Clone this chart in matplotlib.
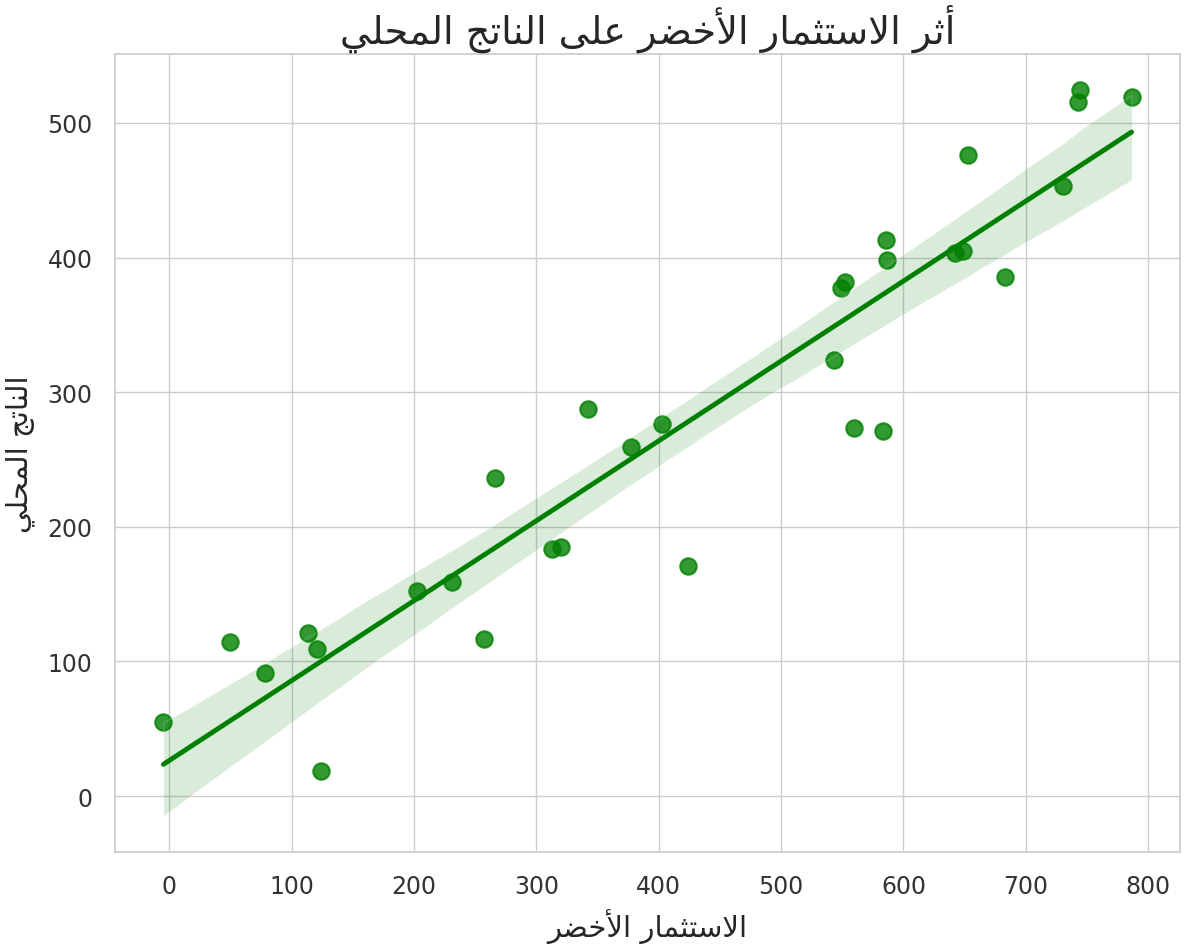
import numpy as np
import pandas as pd
import seaborn as sns
from matplotlib import pyplot as plt

# green investment vs. local output
green_investment = [-4.9, 49.4, 78.5, 113.2, 120.6, 124.1, 202.7, 230.7, 257.0, 265.8,
                    312.7, 320.0, 342.0, 377.3, 402.3, 424.0, 543.5, 548.9, 552.1, 559.7,
                    583.6, 586.0, 586.3, 642.5, 648.8, 652.9, 682.7, 730.8, 742.4, 744.3,
                    786.5]
local_output = [55.1, 114.6, 91.7, 121.0, 109.1, 18.6, 152.5, 159.2, 116.5, 236.6,
                183.5, 185.3, 287.4, 259.2, 276.5, 170.8, 324.1, 377.5, 381.7, 273.3,
                271.3, 412.9, 398.3, 403.5, 404.8, 475.9, 385.6, 453.1, 515.6, 524.3,
                519.6]

TITLE = "أثر الاستثمار الأخضر على الناتج المحلي"
XLABEL = "الاستثمار الأخضر"
YLABEL = "الناتج المحلي"

# presentation forms: (isolated, final, initial, medial)
FORMS = {
    "ا": ("\uFE8D", "\uFE8E", None, None),
    "أ": ("\uFE83", "\uFE84", None, None),
    "ر": ("\uFEAD", "\uFEAE", None, None),
    "ى": ("\uFEEF", "\uFEF0", None, None),
    "ث": ("\uFE99", "\uFE9A", "\uFE9B", "\uFE9C"),
    "ل": ("\uFEDD", "\uFEDE", "\uFEDF", "\uFEE0"),
    "س": ("\uFEB1", "\uFEB2", "\uFEB3", "\uFEB4"),
    "ت": ("\uFE95", "\uFE96", "\uFE97", "\uFE98"),
    "م": ("\uFEE1", "\uFEE2", "\uFEE3", "\uFEE4"),
    "خ": ("\uFEA5", "\uFEA6", "\uFEA7", "\uFEA8"),
    "ض": ("\uFEBD", "\uFEBE", "\uFEBF", "\uFEC0"),
    "ع": ("\uFEC9", "\uFECA", "\uFECB", "\uFECC"),
    "ن": ("\uFEE5", "\uFEE6", "\uFEE7", "\uFEE8"),
    "ج": ("\uFE9D", "\uFE9E", "\uFE9F", "\uFEA0"),
    "ح": ("\uFEA1", "\uFEA2", "\uFEA3", "\uFEA4"),
    "ي": ("\uFEF1", "\uFEF2", "\uFEF3", "\uFEF4"),
}
LAM_ALEF = {"ا": ("\uFEFB", "\uFEFC"), "أ": ("\uFEF7", "\uFEF8")}


def shape_word(word):
    out = []
    i = 0
    prev_joins = False
    while i < len(word):
        ch = word[i]
        nxt = word[i + 1] if i + 1 < len(word) else None
        if ch == "ل" and nxt in LAM_ALEF:
            iso, fin = LAM_ALEF[nxt]
            out.append(fin if prev_joins else iso)
            prev_joins = False
            i += 2
            continue
        iso, fin, ini, med = FORMS[ch]
        joins_next = ini is not None and nxt is not None
        if prev_joins and joins_next:
            out.append(med)
        elif prev_joins:
            out.append(fin)
        elif joins_next:
            out.append(ini)
        else:
            out.append(iso)
        prev_joins = joins_next
        i += 1
    return "".join(out)


def arabic(text):
    """Shape Arabic text and put it in visual (right-to-left) order"""
    shaped = " ".join(shape_word(w) for w in text.split(" "))
    return shaped[::-1]


def main():
    df = pd.DataFrame({"x": green_investment, "y": local_output})

    sns.set_theme(style="whitegrid")
    plt.rcParams["font.family"] = ["DejaVu Sans"]

    fig = plt.figure(figsize=(11.84, 9.45), dpi=100)
    ax = fig.add_axes([0.0971, 0.0974, 0.8995, 0.8444])

    sns.regplot(data=df, x="x", y="y", color="green", seed=0, ax=ax,
                scatter_kws={"s": 140, "linewidths": 1.5},
                line_kws={"linewidth": 3.5})

    ax.set_title(arabic(TITLE), fontsize=27.5, pad=8)
    ax.set_xlabel(arabic(XLABEL), fontsize=21, labelpad=7)
    ax.set_ylabel(arabic(YLABEL), fontsize=21, labelpad=9)
    ax.tick_params(axis="both", labelsize=17, pad=10, labelcolor="#333333")

    plt.savefig("out.png", dpi=100)
    plt.close()


if __name__ == "__main__":
    main()
